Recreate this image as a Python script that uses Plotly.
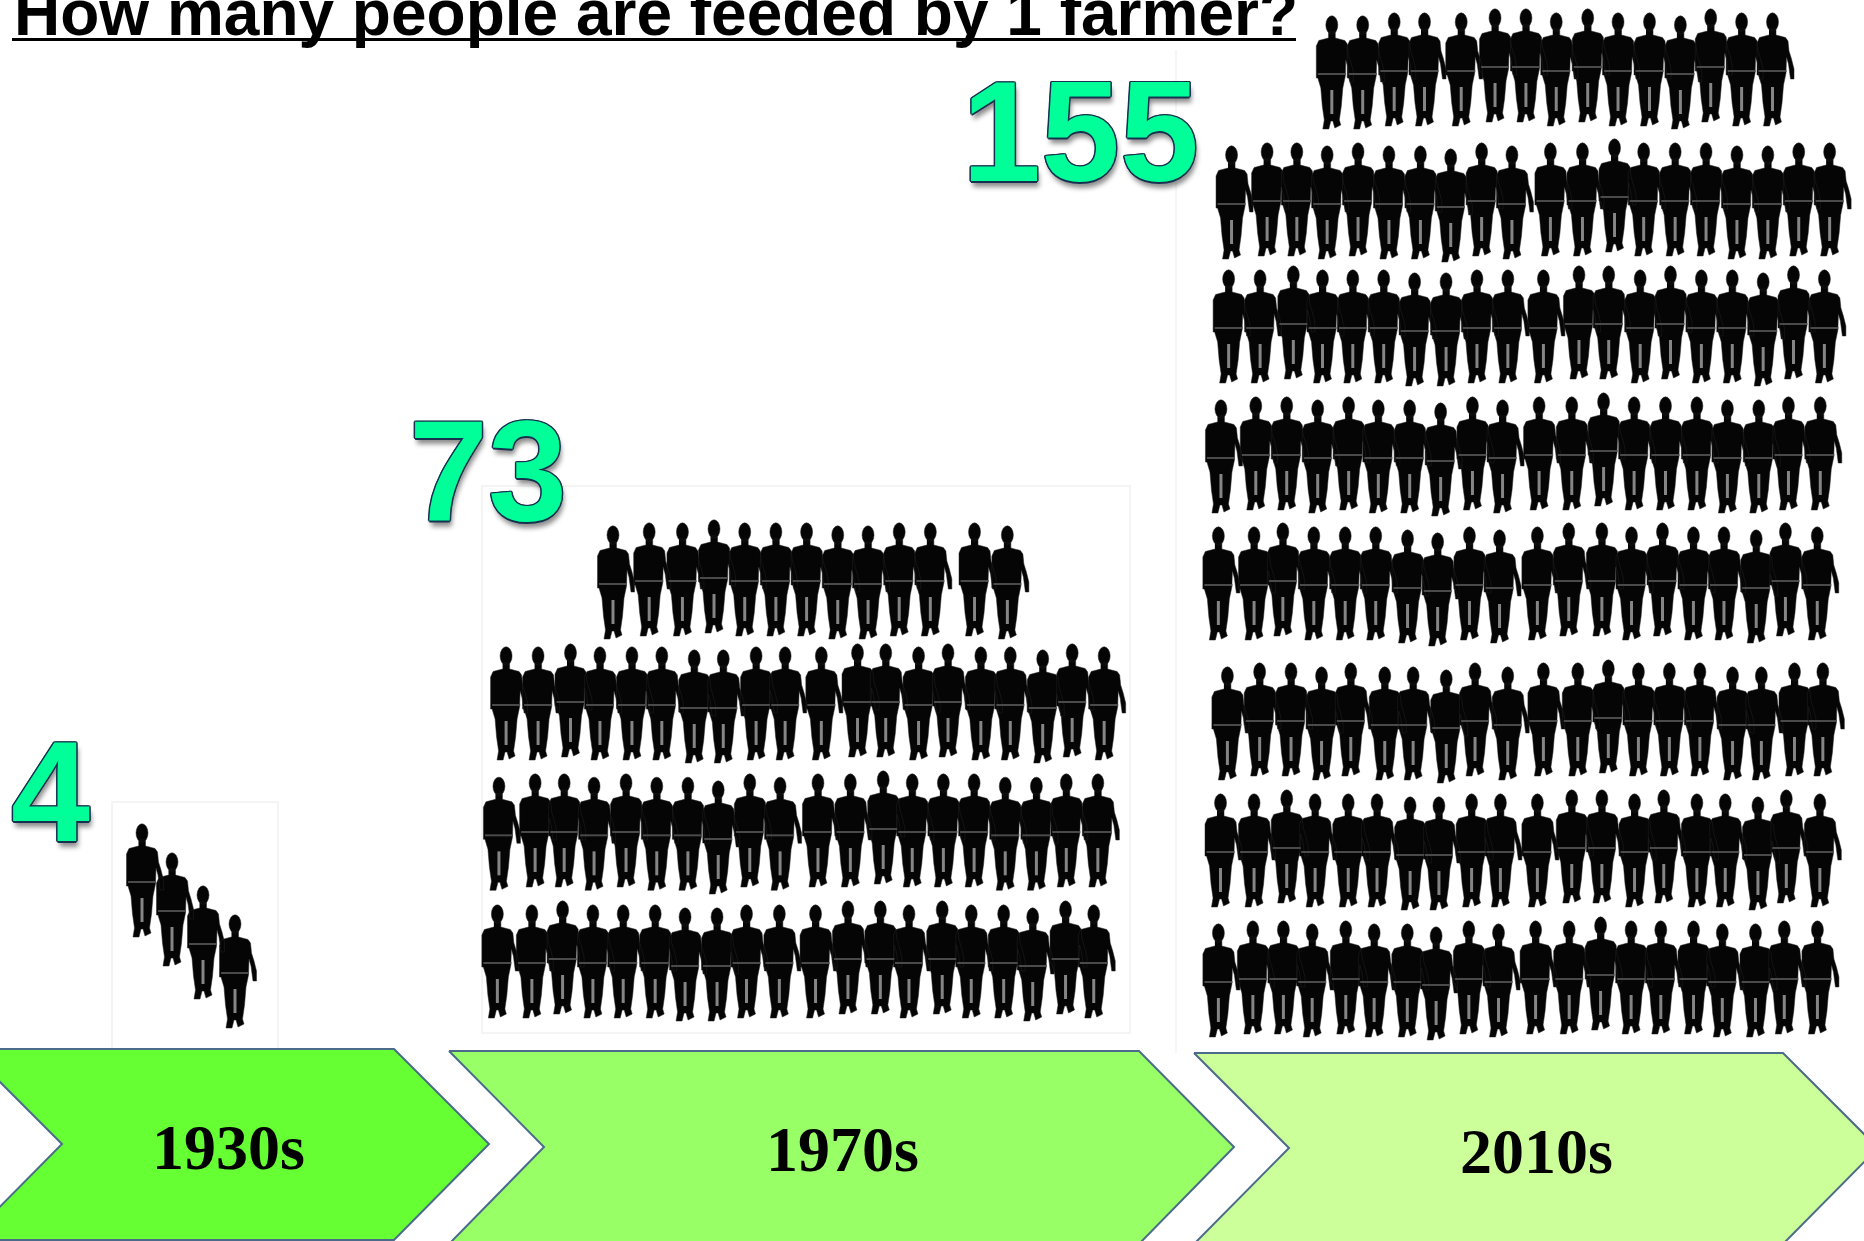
import numpy as np
import plotly.graph_objects as go

W, H = 1864, 1241

# ---- data ----
decades = ["1930s", "1970s", "2010s"]
people_fed = [4, 73, 155]
title_text = "How many people are feeded by 1 farmer?"

# Head position of every figure (centre x, top y in page pixels)
d1930_x = [142, 172, 203, 235]
d1930_top = [824, 853, 886, 915]

# 1970s rows: readings are on crops, converted below (origin, scale)
d1970_r1_x = [316, 402, 481, 556, 629, 703, 776, 850, 922, 996, 1070, 1175, 1253]
d1970_r1_t = [378, 369, 369, 360, 369, 369, 369, 378, 378, 369, 369, 369, 378]
d1970_r2_x = [62, 138, 215, 285, 361, 432, 509, 578, 656, 725, 811, 897, 964, 1042, 1112, 1190, 1260, 1337, 1407, 1483]
d1970_r2_t = [741, 741, 732, 741, 741, 741, 750, 750, 741, 741, 741, 732, 732, 741, 732, 741, 741, 750, 732, 741]
d1970_r3_x = [45, 131, 200, 271, 347, 420, 494, 566, 641, 713, 803, 880, 958, 1027, 1101, 1174, 1248, 1322, 1393, 1468]
d1970_r3_t = [1132, 1122, 1122, 1132, 1122, 1132, 1132, 1143, 1122, 1132, 1122, 1122, 1113, 1122, 1122, 1122, 1132, 1132, 1122, 1122]
d1970_r4_x = [65, 147, 220, 292, 364, 440, 511, 587, 657, 735, 821, 898, 975, 1043, 1122, 1191, 1268, 1337, 1415, 1482]
d1970_r4_t = [75, 75, 63, 75, 75, 75, 84, 84, 75, 75, 75, 63, 63, 75, 63, 75, 75, 84, 63, 75]

d2010_r1_x = [655, 708, 762, 814, 877, 935, 988, 1040, 1094, 1146, 1200, 1253, 1305, 1358, 1411]
d2010_r1_t = [48, 48, 39, 39, 39, 27, 27, 39, 27, 39, 39, 48, 27, 39, 39]
d2010_r2_x = [483, 544, 595, 647, 700, 753, 807, 859, 912, 964, 1030, 1085, 1140, 1190, 1244, 1297, 1350, 1403, 1456, 1509]
d2010_r2_t = [438, 429, 429, 438, 429, 438, 438, 447, 429, 438, 429, 429, 417, 429, 429, 429, 438, 438, 429, 429]
d2010_r3_x = [478, 532, 589, 639, 691, 744, 797, 851, 904, 957, 1018, 1079, 1130, 1184, 1236, 1289, 1342, 1395, 1447, 1500]
d2010_r3_t = [810, 810, 798, 810, 810, 810, 819, 819, 810, 810, 810, 798, 798, 810, 798, 810, 810, 819, 798, 810]
d2010_r4_x = [72, 153, 225, 297, 369, 438, 511, 583, 657, 727, 812, 888, 962, 1033, 1106, 1179, 1250, 1323, 1392, 1466]
d2010_r4_t = [45, 36, 36, 45, 36, 45, 45, 54, 36, 45, 36, 36, 24, 36, 36, 36, 45, 45, 36, 36]
d2010_r5_x = [66, 149, 216, 288, 361, 432, 506, 576, 650, 720, 808, 881, 958, 1027, 1099, 1171, 1242, 1317, 1385, 1459]
d2010_r5_t = [426, 426, 414, 426, 426, 426, 435, 444, 426, 435, 426, 414, 414, 426, 414, 426, 426, 435, 414, 426]
d2010_r6_x = [87, 162, 235, 306, 374, 453, 519, 596, 663, 739, 822, 902, 973, 1043, 1115, 1186, 1262, 1329, 1406, 1472]
d2010_r6_t = [51, 39, 39, 51, 39, 51, 51, 60, 39, 51, 39, 39, 30, 39, 39, 39, 51, 51, 39, 39]
d2010_r7_x = [71, 149, 225, 291, 368, 435, 512, 579, 655, 722, 808, 888, 958, 1034, 1102, 1179, 1245, 1321, 1387, 1465]
d2010_r7_t = [432, 432, 420, 432, 432, 432, 441, 441, 432, 432, 432, 420, 420, 432, 420, 432, 432, 441, 420, 432]
d2010_r8_x = [88, 167, 237, 303, 380, 445, 521, 587, 662, 730, 815, 892, 964, 1034, 1102, 1177, 1243, 1319, 1385, 1461]
d2010_r8_t = [72, 63, 63, 72, 63, 72, 72, 81, 63, 72, 63, 63, 51, 63, 63, 63, 72, 72, 63, 63]


def page(xs, ts, x0, sx, y0):
    return np.array(xs) / sx + x0, np.array(ts) / 3 + y0


rows = [
    (np.array(d1930_x, float), np.array(d1930_top, float)),
    page(d1970_r1_x, d1970_r1_t, 480, 2.376, 400),
    page(d1970_r2_x, d1970_r2_t, 480, 2.376, 400),
    page(d1970_r3_x, d1970_r3_t, 480, 2.376, 400),
    page(d1970_r4_x, d1970_r4_t, 470, 2.376, 880),
    page(d2010_r1_x, d2010_r1_t, 950, 1.7155, 0),
    page(d2010_r2_x, d2010_r2_t, 950, 1.7155, 0),
    page(d2010_r3_x, d2010_r3_t, 950, 1.7155, 0),
    page(d2010_r4_x, d2010_r4_t, 1190, 2.326, 385),
    page(d2010_r5_x, d2010_r5_t, 1190, 2.326, 385),
    page(d2010_r6_x, d2010_r6_t, 1190, 2.326, 650),
    page(d2010_r7_x, d2010_r7_t, 1190, 2.326, 650),
    page(d2010_r8_x, d2010_r8_t, 1180, 2.292, 900),
]
cx = np.concatenate([r[0] for r in rows])
top = np.concatenate([r[1] for r in rows])
assert len(cx) == sum(people_fed)

# ---- the pictogram glyph, relative to head centre / head top ----
t = np.linspace(0, 2 * np.pi, 17)
head = list(zip(6.0 * np.cos(t), 9.0 + 9.2 * np.sin(t)))
body = [(-3.5, 16), (3.5, 16), (3.5, 22), (13, 24.5), (15.5, 28), (16.5, 38), (19, 46), (21.5, 56), (21.5, 66),
        (18, 66), (16, 51), (14, 44), (13.5, 60), (11, 72), (9.5, 90), (7.5, 104), (9, 109), (3, 112), (1, 105),
        (-1, 105), (-3, 113), (-9, 113), (-7.5, 104), (-9.5, 90), (-11, 72), (-14, 62), (-15.5, 62), (-15.5, 30),
        (-13, 24.5), (-3.5, 22)]
belt = [(-14, 58), (14, 58)]
gap = [(0, 74), (0, 98)]


def stamp(glyphs):
    xs, ys = [], []
    for x0, y0 in zip(cx, top):
        for g in glyphs:
            xs += [x0 + p[0] for p in g] + [None]
            ys += [y0 + p[1] for p in g] + [None]
    return xs, ys


fig = go.Figure()

# faint frames of the pasted pictures
frame = dict(type="rect", line=dict(color="#f4f4f4", width=2), fillcolor="rgba(0,0,0,0)", layer="below")
shapes = [
    dict(frame, x0=112, x1=278, y0=802, y1=1049),
    dict(frame, x0=482, x1=1130, y0=486, y1=1033),
    dict(type="line", x0=1176, x1=1176, y0=50, y1=1053, line=dict(color="#f6f6f6", width=2), layer="below"),
    dict(type="line", x0=12, x1=1296, y0=39.5, y1=39.5, line=dict(color="#000000", width=3)),
]

# chevrons
chev_colors = ["#66FF33", "#99FF66", "#CCFF99"]
chev_left = [-33, 449, 1194]
chev_shoulder = [394, 1139, 1783]
chev_top = [1049, 1051, 1053]
chev_mid = [1144, 1147, 1148]
chev_bot = [1240, 1244, 1244]
chev_depth = 95
for col, l, s, a, m, b in zip(chev_colors, chev_left, chev_shoulder, chev_top, chev_mid, chev_bot):
    fig.add_trace(go.Scatter(
        x=[l, s, s + chev_depth, s, l, l + chev_depth, l],
        y=[a, a, m, b, b, m, a],
        mode="lines", fill="toself", fillcolor=col,
        line=dict(color="#4A6B8A", width=2), hoverinfo="skip", showlegend=False))

# figures
xs, ys = stamp([head, body])
fig.add_trace(go.Scatter(x=xs, y=ys, mode="lines", fill="toself", fillcolor="#050505",
                         line=dict(color="#222222", width=0.5), hoverinfo="skip", showlegend=False))
xs, ys = stamp([belt])
fig.add_trace(go.Scatter(x=xs, y=ys, mode="lines", line=dict(color="#4a4a4a", width=2),
                         hoverinfo="skip", showlegend=False))
xs, ys = stamp([gap])
fig.add_trace(go.Scatter(x=xs, y=ys, mode="lines", line=dict(color="#858585", width=3),
                         hoverinfo="skip", showlegend=False))

# text
annotations = []
annotations.append(dict(x=12, y=13, text=title_text, showarrow=False, xanchor="left", yanchor="middle",
                        font=dict(family="Liberation Sans", size=64, color="#000000", weight="bold")))

label_x = [228, 842, 1536]
label_y = [1147, 1149, 1151]
for txt, x, y in zip(decades, label_x, label_y):
    annotations.append(dict(x=x, y=y, text=txt, showarrow=False, xanchor="center", yanchor="middle",
                            font=dict(family="Liberation Serif", size=64, color="#000000", weight="bold")))

num_x = [50, 488, 1080]
num_y = [791, 470, 131]
o = "#16304f"
num_shadow = ", ".join(f"{a}px {b}px 0 {o}" for a, b in
                       [(1.5, 0), (-1.5, 0), (0, 1.5), (0, -1.5), (1, 1), (-1, 1), (1, -1), (-1, -1)])
num_shadow += ", 2px 6px 5px rgba(0,0,0,0.45)"
for v, x, y in zip(people_fed, num_x, num_y):
    annotations.append(dict(x=x, y=y, text=str(v), showarrow=False, xanchor="center", yanchor="middle",
                            font=dict(family="Liberation Sans", size=142, color="#00FF99", weight="bold",
                                      shadow=num_shadow)))

fig.update_layout(
    width=W, height=H, margin=dict(l=0, r=0, t=0, b=0, pad=0),
    paper_bgcolor="white", plot_bgcolor="white", showlegend=False,
    xaxis=dict(range=[0, W], visible=False, fixedrange=True),
    yaxis=dict(range=[H, 0], visible=False, fixedrange=True),
    shapes=shapes, annotations=annotations,
)
fig.write_html("out.html", post_script="document.body.style.margin='0';document.body.style.overflow='hidden';",
               config={"displayModeBar": False})
